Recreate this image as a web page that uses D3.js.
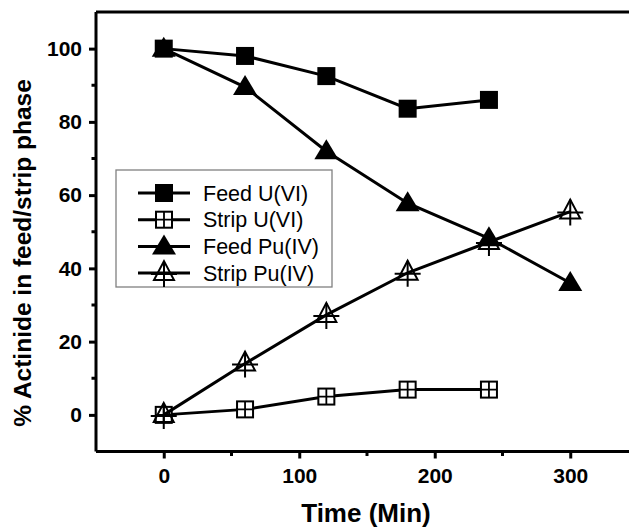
<!DOCTYPE html>
<html>
<head>
<meta charset="utf-8">
<script src="https://cdn.jsdelivr.net/npm/d3@7"></script>
<style>
  body { margin: 0; background: #fff; }
  text { font-family: "Liberation Sans", Arial, sans-serif; }
</style>
</head>
<body>
<div id="chart"></div>
<script>
var width = 629,
  height = 531;

// data
var times = [0, 60, 120, 180, 240, 300];
var feedU = [100, 98, 92.5, 83.6, 86];
var stripU = [0, 1.5, 5, 6.9, 6.9];
var feedPu = [100, 89.5, 72, 57.8, 48.2, 36];
var stripPu = [0, 14, 27.3, 38.8, 47.2, 55.5];
var seriesNames = ["Feed U(VI)", "Strip U(VI)", "Feed Pu(IV)", "Strip Pu(IV)"];
var seriesKinds = ["fsquare", "osquare", "ftri", "otri"];
var xTicks = [0, 100, 200, 300];
var yTicks = [0, 20, 40, 60, 80, 100];

var series = [feedU, stripU, feedPu, stripPu].map(function (vals, i) {
  return {
    name: seriesNames[i],
    kind: seriesKinds[i],
    points: vals.map(function (v, j) { return { t: times[j], v: v }; })
  };
});

var svg = d3.select("#chart")
  .append("svg")
  .attr("width", width)
  .attr("height", height);

var x = d3.scaleLinear().domain([-50, 350]).range([96, 638]);
var y = d3.scaleLinear().domain([-10, 110]).range([451.5, 12]);

// frame top line
svg.append("line")
  .attr("x1", x(-50)).attr("x2", x(350))
  .attr("y1", y(110)).attr("y2", y(110))
  .attr("stroke", "#000").attr("stroke-width", 3);

// x axis
var xAxis = svg.append("g")
  .attr("transform", "translate(0," + y(-10) + ")")
  .call(d3.axisBottom(x).tickValues(xTicks).tickSize(7).tickPadding(10).tickFormat(d3.format("d")));
xAxis.append("g")
  .selectAll("line")
  .data([50, 150, 250])
  .enter().append("line")
  .attr("x1", function (d) { return x(d); })
  .attr("x2", function (d) { return x(d); })
  .attr("y1", 0).attr("y2", 4.5)
  .attr("stroke", "#000").attr("stroke-width", 3);

// y axis
var yAxis = svg.append("g")
  .attr("transform", "translate(" + x(-50) + ",0)")
  .call(d3.axisLeft(y).tickValues(yTicks).tickSize(7).tickPadding(7).tickFormat(d3.format("d")));
yAxis.append("g")
  .selectAll("line")
  .data([10, 30, 50, 70, 90])
  .enter().append("line")
  .attr("y1", function (d) { return y(d); })
  .attr("y2", function (d) { return y(d); })
  .attr("x1", 0).attr("x2", -4.5)
  .attr("stroke", "#000").attr("stroke-width", 3);

[xAxis, yAxis].forEach(function (a) {
  a.select(".domain").attr("stroke-width", 3).attr("d",
    a === xAxis ? "M" + x(-50) + ",0H" + x(350) : "M0," + y(-10) + "V" + y(110));
  a.selectAll(".tick line").attr("stroke-width", 3);
  a.selectAll(".tick text")
    .attr("fill", "#000")
    .style("font-size", "21px")
    .style("font-weight", "bold")
    .style("font-family", '"Liberation Sans", Arial, sans-serif');
});

// axis titles
svg.append("text")
  .attr("x", 366)
  .attr("y", 522)
  .attr("text-anchor", "middle")
  .style("font-size", "26px")
  .style("font-weight", "bold")
  .text("Time (Min)");

svg.append("text")
  .attr("transform", "translate(31,253) rotate(-90)")
  .attr("text-anchor", "middle")
  .style("font-size", "24.5px")
  .style("font-weight", "bold")
  .text("% Actinide in feed/strip phase");

// marker drawing
function drawMarker(g, kind) {
  if (kind === "fsquare") {
    g.append("rect").attr("x", -9).attr("y", -9).attr("width", 18).attr("height", 18)
      .attr("fill", "#000");
  } else if (kind === "osquare") {
    g.append("rect").attr("x", -8).attr("y", -8).attr("width", 16).attr("height", 16)
      .attr("fill", "#fff").attr("stroke", "#000").attr("stroke-width", 2);
    g.append("path").attr("d", "M-8,0H8M0,-8V8")
      .attr("stroke", "#000").attr("stroke-width", 1.8);
  } else if (kind === "ftri") {
    g.append("path").attr("d", "M0,-12L12,8L-12,8Z")
      .attr("fill", "#000");
  } else {
    g.append("path").attr("d", "M0,-12L10,7L-10,7Z")
      .attr("fill", "none").attr("stroke", "#000").attr("stroke-width", 2);
    g.append("path").attr("d", "M-13,1H13M0,-12V14")
      .attr("stroke", "#000").attr("stroke-width", 2);
  }
}

var line = d3.line()
  .x(function (d) { return x(d.t); })
  .y(function (d) { return y(d.v); });

var groups = svg.selectAll(".series")
  .data(series)
  .enter().append("g")
  .attr("class", "series");

groups.append("path")
  .attr("d", function (d) { return line(d.points); })
  .attr("fill", "none")
  .attr("stroke", "#000")
  .attr("stroke-width", 3);

groups.each(function (s) {
  d3.select(this).selectAll(".pt")
    .data(s.points)
    .enter().append("g")
    .attr("class", "pt")
    .attr("transform", function (d) { return "translate(" + x(d.t) + "," + y(d.v) + ")"; })
    .each(function () { drawMarker(d3.select(this), s.kind); });
});

// legend
var legend = svg.append("g").attr("transform", "translate(116,170)");
legend.append("rect")
  .attr("width", 216).attr("height", 117)
  .attr("fill", "#fff")
  .attr("stroke", "#808080")
  .attr("stroke-width", 1.3);

var items = legend.selectAll(".item")
  .data(series)
  .enter().append("g")
  .attr("class", "item")
  .attr("transform", function (d, i) { return "translate(0," + (23 + i * 26.7) + ")"; });

items.append("line")
  .attr("x1", 22).attr("x2", 74)
  .attr("stroke", "#000").attr("stroke-width", 3);
items.append("g")
  .attr("transform", "translate(48,0)")
  .each(function (d) { drawMarker(d3.select(this), d.kind); });
items.append("text")
  .attr("x", 87)
  .attr("y", 7.5)
  .style("font-size", "21.5px")
  .text(function (d) { return d.name; });
</script>
</body>
</html>
